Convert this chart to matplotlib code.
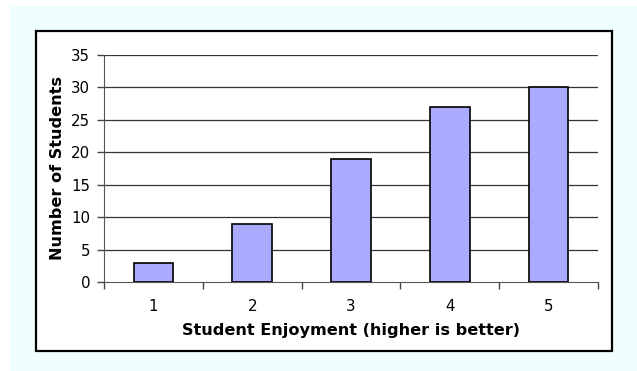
import matplotlib
matplotlib.use("Agg")
import matplotlib.pyplot as plt
from matplotlib.patches import Rectangle

categories = ["1", "2", "3", "4", "5"]
students = [3, 9, 19, 27, 30]
yticks = [0, 5, 10, 15, 20, 25, 30, 35]

W, H = 637, 371
fig = plt.figure(figsize=(W / 100, H / 100), dpi=100, facecolor="white")

def fx(x):
    return x / W

def fy(y):
    return 1 - y / H

# light cyan background
fig.patches.append(Rectangle((fx(10), 0), 1 - fx(10), fy(6), transform=fig.transFigure,
                             facecolor="#EFFFFF", edgecolor="none", zorder=-3))
# white chart box with black border
fig.patches.append(Rectangle((fx(36), fy(351)), fx(612) - fx(36), fy(31) - fy(351),
                             transform=fig.transFigure, facecolor="white",
                             edgecolor="black", linewidth=1.6, zorder=-2))

ax = fig.add_axes([fx(104), fy(282), fx(598) - fx(104), fy(55) - fy(282)])
ax.set_zorder(1)
ax.set_facecolor("none")
x = list(range(len(categories)))
ax.bar(x, students, width=0.4, color="#AAAAFF", edgecolor="black", linewidth=1.2, zorder=3)
ax.set_xlim(-0.5, len(categories) - 0.5)
ax.set_ylim(0, 35)
ax.set_yticks(yticks)
ax.set_yticklabels([str(v) for v in yticks], fontsize=10.8)
ax.set_xticks(x)
ax.set_xticklabels(categories, fontsize=10.8)
ax.set_xticks([i + 0.5 for i in range(-1, len(categories))], minor=True)
ax.tick_params(axis="x", which="major", length=0, pad=12)
ax.tick_params(axis="x", which="minor", length=5, width=1, color="#444444", direction="out")
ax.tick_params(axis="y", length=5, width=1, color="#444444", direction="out", pad=5)
for v in yticks[1:]:
    ax.axhline(v, color="#333333", linewidth=0.9, zorder=1)
for s in ["top", "right"]:
    ax.spines[s].set_visible(False)
ax.spines["left"].set_color("#555555")
ax.spines["bottom"].set_color("#555555")
ax.set_xlabel("Student Enjoyment (higher is better)", fontsize=11.6, fontweight="bold", labelpad=7)
ax.set_ylabel("Number of Students", fontsize=11.6, fontweight="bold", labelpad=4)

fig.savefig("out.png", dpi=100, facecolor=fig.get_facecolor())
